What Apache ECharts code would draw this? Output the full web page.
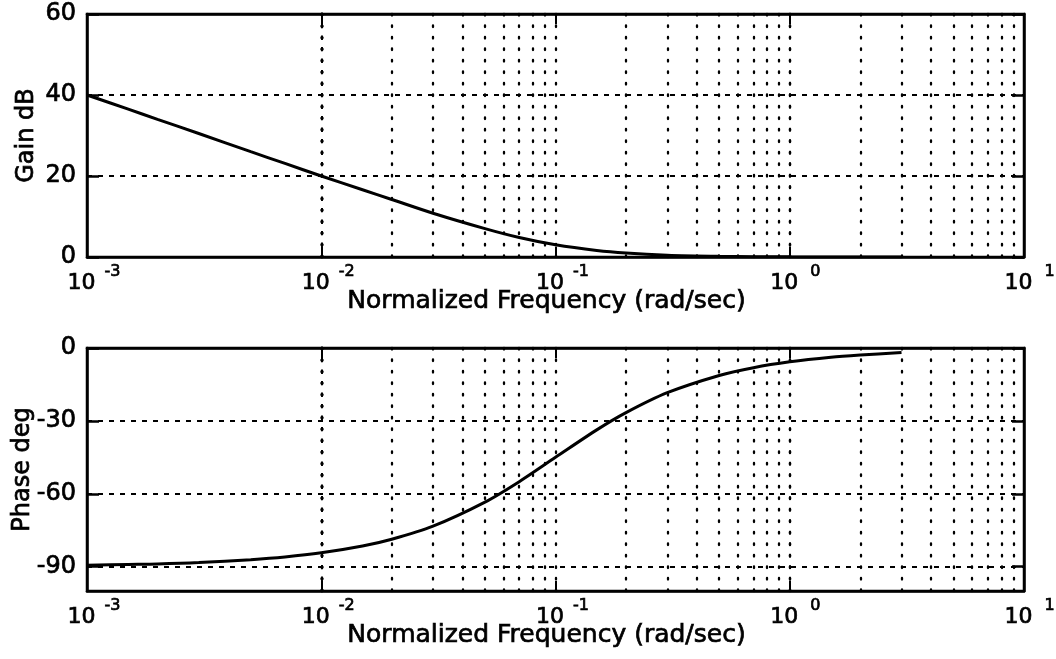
<!DOCTYPE html>
<html>
<head>
<meta charset="utf-8">
<script src="https://cdn.jsdelivr.net/npm/echarts@6/dist/echarts.min.js"></script>
<style>
  html, body { margin: 0; padding: 0; background: #ffffff; }
  #chart { width: 1056px; height: 659px; }
</style>
</head>
<body>
<div id="chart"></div>
<script>
// Frequency samples (rad/sec) and the gain / phase response read at each one
const freq = [0.001, 0.0015, 0.002, 0.003, 0.005, 0.007, 0.01, 0.015, 0.02, 0.03, 0.05, 0.07,
              0.1, 0.15, 0.2, 0.3, 0.5, 0.7, 1, 1.5, 2, 3];
const gainDb = [40.0, 36.5, 34.0, 30.5, 26.0, 23.1, 20.0, 16.6, 14.2, 10.8, 7.0, 4.8,
                3.0, 1.6, 0.97, 0.46, 0.17, 0.09, 0.04, 0.02, 0.01, 0.005];
const phaseDeg = [-89.4, -89.1, -88.9, -88.3, -87.1, -86.0, -84.3, -81.5, -78.7, -73.3, -63.4, -55.0,
                  -45.0, -33.7, -26.6, -18.4, -11.3, -8.1, -5.7, -3.8, -2.9, -1.9];

// Axis ranges and ticks
const freqMin = 0.001;
const freqMax = 10;
const decadeExponents = [-3, -2, -1, 0, 1];
const minorMultipliers = [2, 3, 4, 5, 6, 7, 8, 9];
const gainTicks = [0, 20, 40, 60];
const phaseTicks = [-90, -60, -30, 0];

const FONT = 'DejaVu Sans';
const INK = '#000000';

// positions of the vertical dotted grid lines: every 2..9 multiple plus the inner decades
const gridFreqs = [];
decadeExponents.slice(0, -1).forEach(function (e, i) {
  if (i > 0) gridFreqs.push(Math.pow(10, e));
  minorMultipliers.forEach(function (m) {
    gridFreqs.push(Number((m * Math.pow(10, e)).toPrecision(3)));
  });
});
gridFreqs.push(1);

const dotted = { color: INK, width: 2.3, type: [1.5, 10], cap: 'round' };
const dashed = { color: INK, width: 2, type: [5, 6] };
const ink = { textBorderColor: INK, textBorderWidth: 0.7 };

function decadeLabel(value) {
  const e = Math.round(Math.log10(value));
  return '{pad| }{b|10}{e|' + e + '}';
}

const decadeRich = {
  pad: { width: 17, fontSize: 10 },
  b: Object.assign({ fontFamily: FONT, fontSize: 22, color: INK, lineHeight: 30, verticalAlign: 'bottom' }, ink),
  e: Object.assign({ fontFamily: FONT, fontSize: 16, color: INK, lineHeight: 16, verticalAlign: 'top',
       width: 22, padding: [0, 0, 0, 6], align: 'left' }, ink)
};

function xAxes(gridIndex) {
  return [{
    type: 'log', logBase: 10, gridIndex: gridIndex, min: freqMin, max: freqMax, position: 'bottom',
    axisLine: { show: true, onZero: false, lineStyle: { color: INK, width: 2.5 } },
    axisTick: { show: true, inside: true, length: 10, lineStyle: { color: INK, width: 2 } },
    minorTick: { show: false },
    splitLine: { show: false },
    axisLabel: {
      show: true, margin: 7, showMinLabel: true, showMaxLabel: true,
      formatter: decadeLabel, rich: decadeRich
    },
    name: 'Normalized Frequency (rad/sec)', nameLocation: 'middle', nameGap: 32,
    nameMoveOverlap: false,
    nameTextStyle: Object.assign({ fontFamily: FONT, fontSize: 25, color: INK, verticalAlign: 'top',
                                   padding: [0, 18, 0, 0] }, ink)
  }, {
    type: 'log', logBase: 10, gridIndex: gridIndex, min: freqMin, max: freqMax, position: 'top',
    axisLine: { show: true, onZero: false, lineStyle: { color: INK, width: 2.5 } },
    axisTick: { show: true, inside: true, length: 10, lineStyle: { color: INK, width: 2 } },
    axisLabel: { show: false },
    splitLine: { show: false }
  }];
}

function yAxes(gridIndex, ticks, name, nameGap) {
  const lo = gridIndex === 0 ? 0 : -100;
  const hi = gridIndex === 0 ? 60 : 0;
  const common = {
    type: 'value', gridIndex: gridIndex, min: lo, max: hi
  };
  return [Object.assign({}, common, {
    position: 'left',
    axisLine: { show: true, onZero: false, lineStyle: { color: INK, width: 2.5 } },
    axisTick: { show: true, inside: true, length: 12, customValues: ticks, lineStyle: { color: INK, width: 2.5 } },
    splitLine: { show: true, lineStyle: dashed },
    axisLabel: Object.assign({ show: true, margin: 11, customValues: ticks, fontFamily: FONT, fontSize: 24, color: INK }, ink),
    name: name, nameLocation: 'middle', nameGap: nameGap, nameRotate: 90, nameMoveOverlap: false,
    nameTextStyle: Object.assign({ fontFamily: FONT, fontSize: 24, color: INK }, ink)
  }), Object.assign({}, common, {
    position: 'right',
    axisLine: { show: true, onZero: false, lineStyle: { color: INK, width: 2.5 } },
    axisTick: { show: true, inside: true, length: 12, customValues: ticks, lineStyle: { color: INK, width: 2.5 } },
    splitLine: { show: false },
    axisLabel: { show: false }
  })];
}

function curve(values, axisBase) {
  return {
    type: 'line',
    xAxisIndex: axisBase, yAxisIndex: axisBase,
    data: freq.map(function (f, i) { return [f, values[i]]; }),
    showSymbol: false, smooth: 0.3, animation: false,
    lineStyle: { color: INK, width: 3 },
    z: 5,
    markLine: {
      silent: true, animation: false, symbol: ['none', 'none'],
      label: { show: false },
      lineStyle: dotted,
      emphasis: { disabled: true },
      z: 1,
      data: gridFreqs.map(function (f) { return { xAxis: f }; })
    }
  };
}

const chart = echarts.init(document.getElementById('chart'), null, { renderer: 'canvas' });
chart.setOption({
  backgroundColor: '#ffffff',
  animation: false,
  grid: [
    { left: 87, top: 14, width: 937, height: 243, show: true, borderColor: INK, borderWidth: 2.5,
      outerBoundsMode: 'none', containLabel: false },
    { left: 87, top: 348, width: 937, height: 243, show: true, borderColor: INK, borderWidth: 2.5,
      outerBoundsMode: 'none', containLabel: false }
  ],
  xAxis: xAxes(0).concat(xAxes(1)),
  yAxis: yAxes(0, gainTicks, 'Gain dB', 48).concat(yAxes(1, phaseTicks, 'Phase deg', 52)),
  series: [curve(gainDb, 0), curve(phaseDeg, 2)]
});
</script>
</body>
</html>
